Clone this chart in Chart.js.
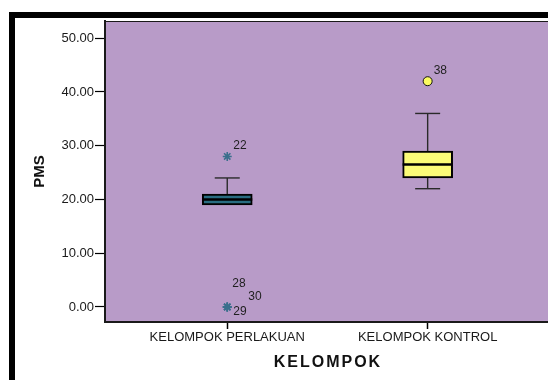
<!DOCTYPE html>
<html>
<head>
<meta charset="utf-8">
<script src="https://cdn.jsdelivr.net/npm/chart.js@4/dist/chart.umd.min.js"></script>
<style>
  html, body { margin: 0; padding: 0; background: #fff; overflow: hidden; }
  #wrap { position: relative; width: 548px; height: 380px; overflow: hidden; }
  #frame { position: absolute; left: 9px; top: 12px; width: 620px; height: 420px;
           border-top: 6px solid #000; border-left: 6px solid #000; box-sizing: border-box; }
  #c { position: absolute; left: 0; top: 0; }
</style>
</head>
<body>
<div id="wrap">
  <div id="frame"></div>
  <canvas id="c" width="555" height="380"></canvas>
</div>
<script>
// Groups on the horizontal axis
const categories = ['KELOMPOK PERLAKUAN', 'KELOMPOK KONTROL'];
const xTitle = 'KELOMPOK';

// Five-number summary of PMS per group
const whiskerLow  = [19, 22];
const q1          = [19, 24];
const median      = [20, 26.5];
const q3          = [21, 29];
const whiskerHigh = [24, 36];

// Outlying cases: group index, PMS value, case number
const outlierGroup = [0, 0, 0, 0, 1];
const outlierValue = [28, 0, 0, 0, 42];
const outlierCase  = ['22', '29', '30', '28', '38'];
const outlierKind  = ['extreme', 'extreme', 'extreme', 'extreme', 'outlier'];

// Value axis tick labels
const yTicks = [0, 10, 20, 30, 40, 50];

const boxColors = ['#296d81', '#fbfb78'];
const plotBg = '#b89bc8';
const ink = '#1a1a1a';
const sans = '"Liberation Sans", Arial, sans-serif';

// Purple plot panel behind the boxes, with its top edge
const panel = {
  id: 'panel',
  beforeDraw(chart) {
    const { ctx, chartArea: a } = chart;
    ctx.save();
    ctx.fillStyle = plotBg;
    ctx.fillRect(a.left, a.top, a.right - a.left, a.bottom - a.top);
    ctx.strokeStyle = ink;
    ctx.lineWidth = 1.2;
    ctx.beginPath();
    ctx.moveTo(a.left, a.top + 0.5);
    ctx.lineTo(a.right, a.top + 0.5);
    ctx.stroke();
    ctx.restore();
  }
};

// Whiskers, medians, case labels and the spaced-out group axis title
const boxExtras = {
  id: 'boxExtras',
  afterDatasetsDraw(chart) {
    const { ctx } = chart;
    const x = chart.scales.x, y = chart.scales.y;
    const seg = (x1, y1, x2, y2) => { ctx.beginPath(); ctx.moveTo(x1, y1); ctx.lineTo(x2, y2); ctx.stroke(); };
    ctx.save();
    categories.forEach((c, i) => {
      const cx = x.getPixelForValue(i);
      const capHalf = 12.5, boxHalf = 25;
      ctx.strokeStyle = '#2a2a2a';
      ctx.lineWidth = 1.4;
      const yHi = y.getPixelForValue(whiskerHigh[i]);
      const yQ3 = y.getPixelForValue(q3[i]);
      const yQ1 = y.getPixelForValue(q1[i]);
      const yLo = y.getPixelForValue(whiskerLow[i]);
      if (whiskerHigh[i] > q3[i]) { seg(cx, yQ3, cx, yHi); seg(cx - capHalf, yHi, cx + capHalf, yHi); }
      if (whiskerLow[i] < q1[i]) { seg(cx, yQ1, cx, yLo); seg(cx - capHalf, yLo, cx + capHalf, yLo); }
      ctx.strokeStyle = '#000';
      ctx.lineWidth = 2.6;
      const yMed = y.getPixelForValue(median[i]);
      seg(cx - boxHalf, yMed, cx + boxHalf, yMed);
    });

    // case labels; coinciding cases are fanned out around their mark
    ctx.fillStyle = '#1f1f1f';
    ctx.font = '12px ' + sans;
    ctx.textAlign = 'left';
    ctx.textBaseline = 'middle';
    const stacked = [[6, 4.5], [21, -10], [5, -23]];
    const seen = {};
    outlierCase.forEach((label, k) => {
      const key = outlierGroup[k] + ':' + outlierValue[k];
      const same = outlierGroup.filter((g, j) => g === outlierGroup[k] && outlierValue[j] === outlierValue[k]).length;
      const n = seen[key] = (seen[key] || 0) + 1;
      const px = x.getPixelForValue(outlierGroup[k]);
      const py = y.getPixelForValue(outlierValue[k]);
      const off = same > 1 ? stacked[(n - 1) % stacked.length] : [6, -11];
      ctx.fillText(label, px + off[0], py + off[1]);
    });

    // group axis title, letter-spaced
    ctx.fillStyle = '#111';
    ctx.font = 'bold 16px ' + sans;
    ctx.textAlign = 'center';
    ctx.textBaseline = 'middle';
    if ('letterSpacing' in ctx) ctx.letterSpacing = '2px';
    ctx.fillText(xTitle, (x.left + x.right) / 2 + 1, x.bottom - 17);
    ctx.restore();
  }
};

const ctx = document.getElementById('c').getContext('2d');
new Chart(ctx, {
  type: 'bar',
  data: {
    datasets: [
      {
        type: 'bar',
        data: categories.map((c, i) => ({ x: i, y: [q1[i], q3[i]] })),
        backgroundColor: boxColors,
        borderColor: '#000',
        borderWidth: 2,
        borderSkipped: false,
        barThickness: 50,
        order: 2
      },
      {
        type: 'scatter',
        data: outlierValue.map((v, k) => ({ x: outlierGroup[k], y: v })),
        pointStyle: outlierKind.map(t => t === 'extreme' ? 'star' : 'circle'),
        pointRadius: 4.5,
        backgroundColor: outlierKind.map(t => t === 'extreme' ? '#3a6f8c' : '#fbfb60'),
        borderColor: outlierKind.map(t => t === 'extreme' ? '#3a6f8c' : '#111'),
        borderWidth: outlierKind.map(t => t === 'extreme' ? 1.6 : 1),
        order: 1
      }
    ]
  },
  options: {
    responsive: false,
    animation: false,
    devicePixelRatio: 1,
    layout: { padding: { left: 27, top: 21, right: 0, bottom: 0 } },
    plugins: { legend: { display: false }, tooltip: { enabled: false } },
    scales: {
      x: {
        type: 'linear',
        offset: false,
        min: -0.61,
        max: 1.605,
        afterBuildTicks: s => { s.ticks = categories.map((c, i) => ({ value: i })); },
        afterFit: s => { s.height = 58; s.paddingLeft = 0; s.paddingRight = 0; },
        ticks: {
          callback: v => categories[v],
          color: '#1a1a1a',
          font: { family: sans, size: 13 },
          padding: 1,
          maxRotation: 0,
          autoSkip: false
        },
        grid: { display: true, offset: false, drawOnChartArea: false, drawTicks: true, tickLength: 7, color: '#000', tickWidth: 1.5 },
        border: { display: true, color: ink, width: 2 },
        title: { display: false }
      },
      y: {
        type: 'linear',
        min: -2.8,
        max: 53.2,
        afterBuildTicks: s => { s.ticks = yTicks.map(v => ({ value: v })); },
        afterFit: s => { s.width = 78; },
        ticks: {
          callback: v => v.toFixed(2),
          color: '#1a1a1a',
          font: { family: sans, size: 13 },
          padding: 1
        },
        grid: { display: true, drawOnChartArea: false, drawTicks: true, tickLength: 10, color: '#000', tickWidth: 1.2 },
        border: { display: true, color: ink, width: 2 },
        title: {
          display: true,
          text: 'PMS',
          color: '#111',
          font: { family: sans, size: 15, weight: 'bold' },
          padding: { top: 4, bottom: 0 }
        }
      }
    }
  },
  plugins: [panel, boxExtras]
});
</script>
</body>
</html>
